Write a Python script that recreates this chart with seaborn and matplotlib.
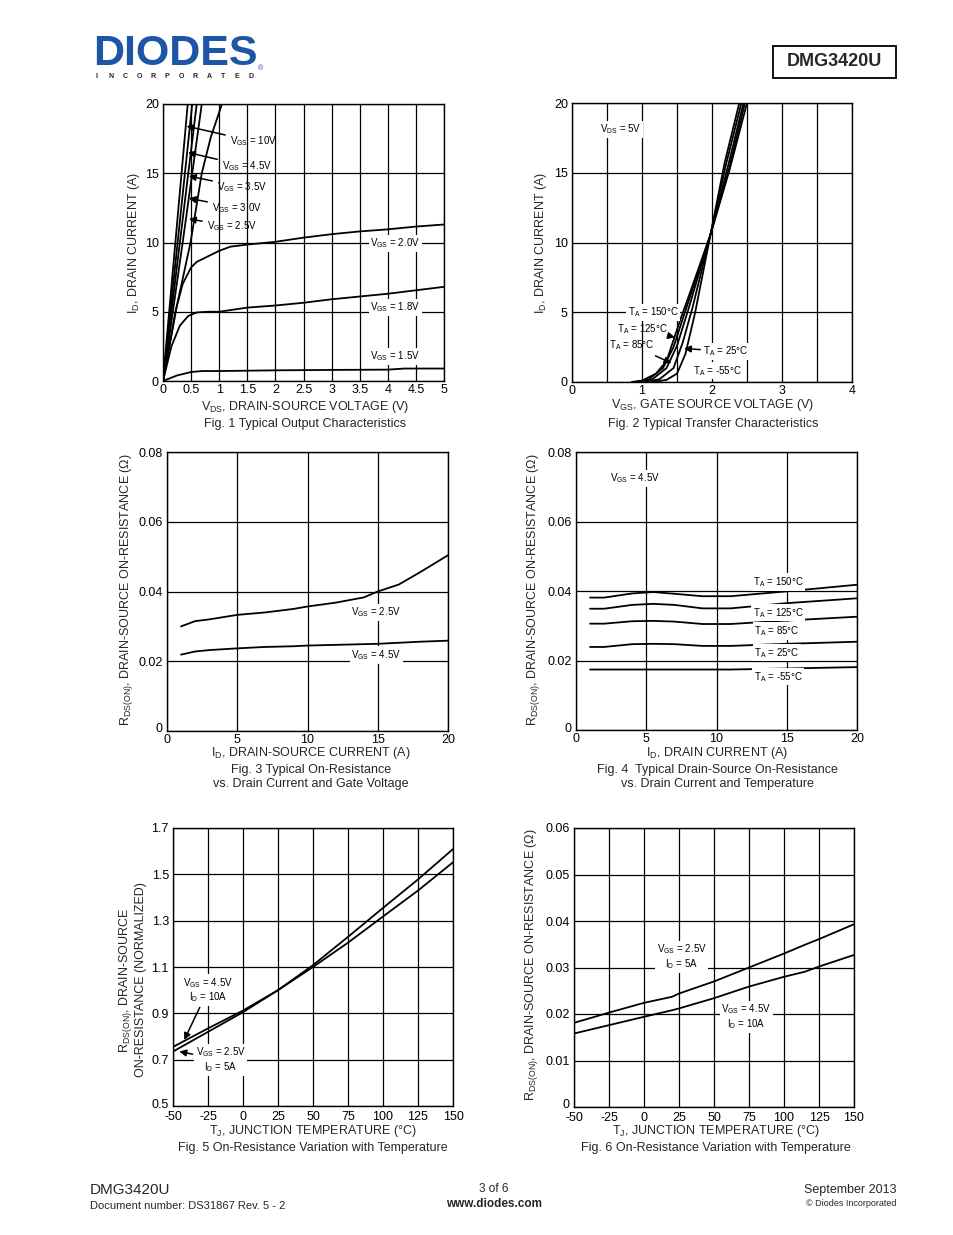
import numpy as np
import pandas as pd
import matplotlib
matplotlib.use("Agg")
import matplotlib.pyplot as plt
import matplotlib.transforms as mtrans
import seaborn as sns
from matplotlib.patches import Rectangle

# ---- Fig 1 data: output characteristics (VDS in V, ID in A)
f1_vds_10 = [0, 0.22, 0.44]
f1_id_10 = [0, 10, 20]
f1_vds_45 = [0, 0.26, 0.52]
f1_id_45 = [0, 10, 20]
f1_vds_35 = [0, 0.30, 0.60]
f1_id_35 = [0, 10, 20]
f1_vds_30 = [0, 0.35, 0.52, 0.69]
f1_id_30 = [0, 10, 15, 20]
f1_vds_25 = [0, 0.25, 0.49, 0.69, 0.85, 1.05]
f1_id_25 = [0, 5.5, 10, 15, 17.6, 20]
f1_vds_20 = [0, 0.1, 0.22, 0.35, 0.5, 0.6, 0.8, 1.0, 1.2, 1.5, 2, 2.5, 3, 3.5, 4, 4.5, 5]
f1_id_20 = [0, 2.2, 5, 7, 8.2, 8.6, 9.0, 9.4, 9.7, 9.85, 10.05, 10.35, 10.6, 10.8, 10.95, 11.15, 11.3]
f1_vds_18 = [0, 0.15, 0.3, 0.45, 0.6, 0.8, 1.0, 1.5, 2, 2.5, 3, 3.5, 4, 4.5, 5]
f1_id_18 = [0, 2.5, 4.0, 4.7, 4.95, 5.0, 5.0, 5.3, 5.45, 5.65, 5.9, 6.1, 6.3, 6.55, 6.8]
f1_vds_15 = [0, 0.25, 0.5, 0.7, 1, 2, 3, 4, 4.3, 5]
f1_id_15 = [0, 0.4, 0.65, 0.72, 0.72, 0.77, 0.8, 0.82, 0.9, 0.9]
f1_xticks = [0, 0.5, 1, 1.5, 2, 2.5, 3, 3.5, 4, 4.5, 5]
f1_xlabels = ["0", "0.5", "1", "1.5", "2", "2.5", "3", "3.5", "4", "4.5", "5"]
f1_yticks = [0, 5, 10, 15, 20]

# ---- Fig 2 data: transfer characteristics (VGS in V, ID in A)
f2_vgs_150 = [0.85, 1.0, 1.2, 1.35, 1.45, 1.55, 1.7, 1.98, 2.25, 2.5]
f2_id_150 = [0, 0.1, 0.6, 1.5, 3.0, 4.5, 6.6, 10.6, 15.2, 20]
f2_vgs_125 = [0.9, 1.1, 1.3, 1.45, 1.6, 1.98, 2.25, 2.47]
f2_id_125 = [0, 0.2, 1.0, 2.5, 4.8, 10.6, 15.4, 20]
f2_vgs_85 = [0.95, 1.15, 1.35, 1.5, 1.65, 1.98, 2.23, 2.45]
f2_id_85 = [0, 0.2, 1.0, 2.6, 5.0, 10.6, 15.5, 20]
f2_vgs_25 = [1.05, 1.25, 1.45, 1.58, 1.72, 1.98, 2.2, 2.42]
f2_id_25 = [0, 0.2, 1.0, 2.8, 5.3, 10.6, 15.6, 20]
f2_vgs_m55 = [1.15, 1.35, 1.5, 1.62, 1.76, 1.98, 2.18, 2.39]
f2_id_m55 = [0, 0.15, 0.6, 2.0, 5.0, 10.6, 15.7, 20]
f2_xticks = [0, 1, 2, 3, 4]
f2_yticks = [0, 5, 10, 15, 20]

# ---- Fig 3 data: RDS(on) vs ID and VGS
f3_id = [1, 2, 3, 5, 7, 9, 10, 12, 14, 15, 16.5, 18, 20]
f3_r25 = [0.030, 0.0315, 0.032, 0.0333, 0.034, 0.035, 0.0357, 0.0368, 0.0383, 0.040, 0.042, 0.0455, 0.0504]
f3_r45 = [0.0219, 0.0228, 0.0232, 0.0237, 0.0241, 0.0243, 0.0245, 0.0247, 0.0249, 0.0250, 0.0253, 0.0256, 0.0259]
f3_xticks = [0, 5, 10, 15, 20]
f3_yticks = [0, 0.02, 0.04, 0.06, 0.08]
f3_ylabels = ["0", "0.02", "0.04", "0.06", "0.08"]

# ---- Fig 4 data: RDS(on) vs ID and temperature
f4_id = [1, 2, 4, 5.5, 7, 9, 11, 15, 20]
f4_r150 = [0.0381, 0.0381, 0.0393, 0.0397, 0.0392, 0.0385, 0.0385, 0.0399, 0.0418]
f4_r125 = [0.0349, 0.0349, 0.0360, 0.0363, 0.0360, 0.0350, 0.0350, 0.0365, 0.0379]
f4_r85 = [0.0306, 0.0306, 0.0313, 0.0314, 0.0312, 0.0305, 0.0305, 0.0315, 0.0326]
f4_r25 = [0.0239, 0.0239, 0.0247, 0.0248, 0.0247, 0.0242, 0.0242, 0.0248, 0.0254]
f4_rm55 = [0.0174, 0.0174, 0.0174, 0.0174, 0.0174, 0.0174, 0.0174, 0.0177, 0.0181]

# ---- Fig 5 data: normalized RDS(on) vs TJ
f5_tj = [-50, -25, 0, 25, 50, 75, 100, 125, 150]
f5_n45 = [0.755, 0.835, 0.912, 1.0, 1.10, 1.205, 1.318, 1.43, 1.552]
f5_n25 = [0.735, 0.82, 0.905, 1.0, 1.108, 1.23, 1.355, 1.478, 1.609]
f5_yticks = [0.5, 0.7, 0.9, 1.1, 1.3, 1.5, 1.7]
tj_ticks = [-50, -25, 0, 25, 50, 75, 100, 125, 150]
tj_labels = ["-50", "-25", "0", "25", "50", "75", "100", "125", "150"]

# ---- Fig 6 data: RDS(on) vs TJ
f6_tj = [-50, -25, 0, 20, 25, 50, 75, 100, 115, 125, 150]
f6_r25 = [0.0181, 0.0203, 0.0224, 0.0237, 0.0244, 0.0270, 0.0300, 0.0330, 0.0349, 0.0361, 0.0393]
f6_r45 = [0.0158, 0.0176, 0.0194, 0.0208, 0.0212, 0.0234, 0.0259, 0.0280, 0.0291, 0.0302, 0.0327]
f6_yticks = [0, 0.01, 0.02, 0.03, 0.04, 0.05, 0.06]
f6_ylabels = ["0", "0.01", "0.02", "0.03", "0.04", "0.05", "0.06"]

sns.set_style("white")
plt.rcParams['font.family'] = ['Liberation Sans', 'DejaVu Sans']
plt.rcParams['mathtext.default'] = 'regular'
plt.rcParams['axes.unicode_minus'] = False

W, H = 954, 1235
fig = plt.figure(figsize=(W / 100, H / 100), dpi=100)
FS = 9


def box(l, t, r, b):
    return fig.add_axes([l / W, 1 - b / H, (r - l) / W, (b - t) / H])


def ftext(x, y, s, **kw):
    fig.text(x / W, 1 - y / H, s, **kw)


def style(ax, xlim, ylim, xt, yt, xlab=None, ylab=None, xminor=None, xpad=2):
    ax.set_xlim(*xlim)
    ax.set_ylim(*ylim)
    ax.set_xticks(xt)
    if xlab is not None:
        ax.set_xticklabels(xlab)
    ax.set_yticks(yt)
    if ylab is not None:
        ax.set_yticklabels(ylab)
    if xminor is not None:
        ax.set_xticks(xminor, minor=True)
    ax.grid(True, which='both', color='black', lw=0.9)
    ax.tick_params(which='both', length=0, labelsize=FS, colors='black')
    ax.tick_params(axis='x', pad=xpad)
    ax.tick_params(axis='y', pad=3)
    for s in ax.spines.values():
        s.set_color('black')
        s.set_linewidth(1.0)
    ax.set_xlabel("")
    ax.set_ylabel("")


def lift_bottom_label(ax, px=3):
    # bottom y label sits a little above the axis corner in the datasheet
    lab = ax.yaxis.get_major_ticks()[0].label1
    lab.set_transform(lab.get_transform() + mtrans.ScaledTranslation(0, px / 100, fig.dpi_scale_trans))


def line(ax, x, y):
    sns.lineplot(x=x, y=y, ax=ax, color='black', lw=1.3, sort=False)


ann = dict(fontsize=7, color='black')
wbox = dict(facecolor='white', edgecolor='none', pad=1.2)
arr = dict(arrowstyle='-|>', color='black', lw=1.1, mutation_scale=10, shrinkA=1, shrinkB=0)

# ---------------- Fig 1
ax1 = box(163, 104, 444, 381)
for x, y in [(f1_vds_10, f1_id_10), (f1_vds_45, f1_id_45), (f1_vds_35, f1_id_35),
             (f1_vds_30, f1_id_30), (f1_vds_25, f1_id_25), (f1_vds_20, f1_id_20),
             (f1_vds_18, f1_id_18), (f1_vds_15, f1_id_15)]:
    line(ax1, x, y)
style(ax1, (0, 5), (0, 20), f1_xticks, f1_yticks, f1_xlabels)
ax1.annotate("V$_{GS}$ = 10V", xy=(0.42, 18.4), xytext=(1.19, 17.3), va='center', arrowprops=arr, **ann)
ax1.annotate("V$_{GS}$ = 4.5V", xy=(0.445, 16.5), xytext=(1.05, 15.5), va='center', arrowprops=arr, **ann)
ax1.annotate("V$_{GS}$ = 3.5V", xy=(0.46, 14.8), xytext=(0.96, 14.0), va='center', arrowprops=arr, **ann)
ax1.annotate("V$_{GS}$ = 3.0V", xy=(0.46, 13.2), xytext=(0.87, 12.5), va='center', arrowprops=arr, **ann)
ax1.annotate("V$_{GS}$ = 2.5V", xy=(0.46, 11.7), xytext=(0.78, 11.2), va='center', arrowprops=arr, **ann)
ax1.text(4.13, 9.93, "V$_{GS}$ = 2.0V", ha='center', va='center', bbox=wbox, **ann)
ax1.text(4.13, 5.3, "V$_{GS}$ = 1.8V", ha='center', va='center', bbox=wbox, **ann)
ax1.text(4.13, 1.8, "V$_{GS}$ = 1.5V", ha='center', va='center', bbox=wbox, **ann)
ftext(134, 243, "I$_{D}$, DRAIN CURRENT (A)", rotation=90, ha='center', va='center', fontsize=FS)
ftext(305, 407, "V$_{DS}$, DRAIN-SOURCE VOLTAGE (V)", ha='center', va='center', fontsize=FS)
ftext(305, 424, "Fig. 1 Typical Output Characteristics", ha='center', va='center', fontsize=FS)

# ---------------- Fig 2
ax2 = box(572, 103, 852, 382)
for x, y in [(f2_vgs_150, f2_id_150), (f2_vgs_125, f2_id_125), (f2_vgs_85, f2_id_85),
             (f2_vgs_25, f2_id_25), (f2_vgs_m55, f2_id_m55)]:
    line(ax2, x, y)
style(ax2, (0, 4), (0, 20), f2_xticks, f2_yticks, xminor=[0.5, 1.5, 2.5, 3.5])
ax2.text(0.69, 18.1, "V$_{DS}$ = 5V", ha='center', va='center', bbox=wbox, **ann)
ax2.text(1.16, 5.0, "T$_{A}$ = 150°C", ha='center', va='center', bbox=wbox, **ann)
ax2.annotate("T$_{A}$ = 125°C", xy=(1.47, 3.2), xytext=(1.0, 3.8), ha='center', va='center', arrowprops=arr, **ann)
ax2.annotate("T$_{A}$ = 85°C", xy=(1.42, 1.35), xytext=(0.86, 2.65), ha='center', va='center', arrowprops=arr, **ann)
ax2.annotate("T$_{A}$ = 25°C", xy=(1.6, 2.4), xytext=(2.2, 2.2), ha='center', va='center', bbox=wbox, arrowprops=arr, **ann)
ax2.text(2.07, 0.8, "T$_{A}$ = -55°C", ha='center', va='center', bbox=wbox, **ann)
ftext(541, 243, "I$_{D}$, DRAIN CURRENT (A)", rotation=90, ha='center', va='center', fontsize=FS)
ftext(713, 405, "V$_{GS}$, GATE SOURCE VOLTAGE (V)", ha='center', va='center', fontsize=FS)
ftext(713, 424, "Fig. 2 Typical Transfer Characteristics", ha='center', va='center', fontsize=FS)

# ---------------- Fig 3
ax3 = box(167, 452, 448, 731)
line(ax3, f3_id, f3_r25)
line(ax3, f3_id, f3_r45)
style(ax3, (0, 20), (0, 0.08), f3_xticks, f3_yticks, ylab=f3_ylabels)
lift_bottom_label(ax3)
ax3.text(14.9, 0.0341, "V$_{GS}$ = 2.5V", ha='center', va='center', bbox=wbox, **ann)
ax3.text(14.9, 0.0218, "V$_{GS}$ = 4.5V", ha='center', va='center', bbox=wbox, **ann)
ftext(127, 590, "R$_{DS(ON)}$, DRAIN-SOURCE ON-RESISTANCE (Ω)", rotation=90, ha='center', va='center', fontsize=FS)
ftext(311, 753, "I$_{D}$, DRAIN-SOURCE CURRENT (A)", ha='center', va='center', fontsize=FS)
ftext(311, 777, "Fig. 3 Typical On-Resistance\nvs. Drain Current and Gate Voltage",
      ha='center', va='center', fontsize=FS, linespacing=1.2)

# ---------------- Fig 4
ax4 = box(576, 452, 857, 730)
for y in [f4_r150, f4_r125, f4_r85, f4_r25, f4_rm55]:
    line(ax4, f4_id, y)
style(ax4, (0, 20), (0, 0.08), f3_xticks, f3_yticks, ylab=f3_ylabels)
lift_bottom_label(ax4)
ax4.text(4.2, 0.0725, "V$_{GS}$ = 4.5V", ha='center', va='center', bbox=wbox, **ann)
ax4.text(14.4, 0.0426, "T$_{A}$ = 150°C", ha='center', va='center', bbox=wbox, **ann)
ax4.text(14.4, 0.0337, "T$_{A}$ = 125°C", ha='center', va='center', bbox=wbox, **ann)
ax4.text(14.3, 0.0285, "T$_{A}$ = 85°C", ha='center', va='center', bbox=wbox, **ann)
ax4.text(14.3, 0.0222, "T$_{A}$ = 25°C", ha='center', va='center', bbox=wbox, **ann)
ax4.text(14.4, 0.0153, "T$_{A}$ = -55°C", ha='center', va='center', bbox=wbox, **ann)
ftext(533, 590, "R$_{DS(ON)}$, DRAIN-SOURCE ON-RESISTANCE (Ω)", rotation=90, ha='center', va='center', fontsize=FS)
ftext(717, 753, "I$_{D}$, DRAIN CURRENT (A)", ha='center', va='center', fontsize=FS)
ftext(717, 777, "Fig. 4  Typical Drain-Source On-Resistance\nvs. Drain Current and Temperature",
      ha='center', va='center', fontsize=FS, linespacing=1.2)

# ---------------- Fig 5
ax5 = box(173, 828, 453, 1106)
line(ax5, f5_tj, f5_n45)
line(ax5, f5_tj, f5_n25)
style(ax5, (-50, 150), (0.5, 1.7), tj_ticks, f5_yticks, xlab=tj_labels, xpad=3.5)
lift_bottom_label(ax5, 2)
ax5.annotate("V$_{GS}$ = 4.5V\nI$_{D}$ = 10A", xy=(-42, 0.785), xytext=(-25, 1.0), ha='center', va='center',
             bbox=wbox, arrowprops=arr, linespacing=1.1, **ann)
ax5.annotate("V$_{GS}$ = 2.5V\nI$_{D}$ = 5A", xy=(-45.5, 0.735), xytext=(-16, 0.70), ha='center', va='center',
             bbox=wbox, arrowprops=arr, linespacing=1.1, **ann)
ftext(132, 980, "R$_{DS(ON)}$, DRAIN-SOURCE\nON-RESISTANCE (NORMALIZED)", rotation=90, ha='center', va='center',
      fontsize=FS, linespacing=1.15)
ftext(313, 1131, "T$_{J}$, JUNCTION TEMPERATURE (°C)", ha='center', va='center', fontsize=FS)
ftext(313, 1148, "Fig. 5 On-Resistance Variation with Temperature", ha='center', va='center', fontsize=FS)

# ---------------- Fig 6
ax6 = box(574, 828, 854, 1107)
line(ax6, f6_tj, f6_r25)
line(ax6, f6_tj, f6_r45)
style(ax6, (-50, 150), (0, 0.06), tj_ticks, f6_yticks, xlab=tj_labels, ylab=f6_ylabels, xpad=3.5)
lift_bottom_label(ax6)
ax6.text(27, 0.0323, "V$_{GS}$ = 2.5V\nI$_{D}$ = 5A", ha='center', va='center', bbox=wbox, linespacing=1.1, **ann)
ax6.text(73, 0.0194, "V$_{GS}$ = 4.5V\nI$_{D}$ = 10A", ha='center', va='center', bbox=wbox, linespacing=1.1, **ann)
ftext(532, 965, "R$_{DS(ON)}$, DRAIN-SOURCE ON-RESISTANCE (Ω)", rotation=90, ha='center', va='center', fontsize=FS)
ftext(716, 1131, "T$_{J}$, JUNCTION TEMPERATURE (°C)", ha='center', va='center', fontsize=FS)
ftext(716, 1148, "Fig. 6 On-Resistance Variation with Temperature", ha='center', va='center', fontsize=FS)

# ---------------- header
ftext(175, 54, "DIODES", ha='center', va='center', fontsize=31, fontweight='heavy', color='#1d56a6')
fig.patches.append(Rectangle((93 / W, 1 - 55 / H), 168 / W, 1.6 / H, transform=fig.transFigure,
                             facecolor='white', edgecolor='none'))
for i, ch in enumerate("INCORPORATED"):
    ftext(97 + i * 14.0, 76, ch, ha='center', va='center', fontsize=5, fontweight='bold', color='#222222')
ftext(261, 69, "®", ha='center', va='center', fontsize=5, color='#1d56a6')
fig.patches.append(Rectangle((773 / W, 1 - 78 / H), 123 / W, 32 / H, transform=fig.transFigure,
                             facecolor='none', edgecolor='black', lw=1.3))
ftext(834, 62, "DMG3420U", ha='center', va='center', fontsize=13, fontweight='bold')

# ---------------- footer
ftext(90, 1190, "DMG3420U", ha='left', va='center', fontsize=11)
ftext(90, 1206, "Document number: DS31867 Rev. 5 - 2", ha='left', va='center', fontsize=8)
ftext(494, 1189, "3 of 6", ha='center', va='center', fontsize=8.5)
ftext(494, 1204, "www.diodes.com", ha='center', va='center', fontsize=8.5, fontweight='bold')
ftext(897, 1190, "September 2013", ha='right', va='center', fontsize=9)
ftext(897, 1204, "© Diodes Incorporated", ha='right', va='center', fontsize=6.5)

fig.savefig("out.png", dpi=100, facecolor='white')
